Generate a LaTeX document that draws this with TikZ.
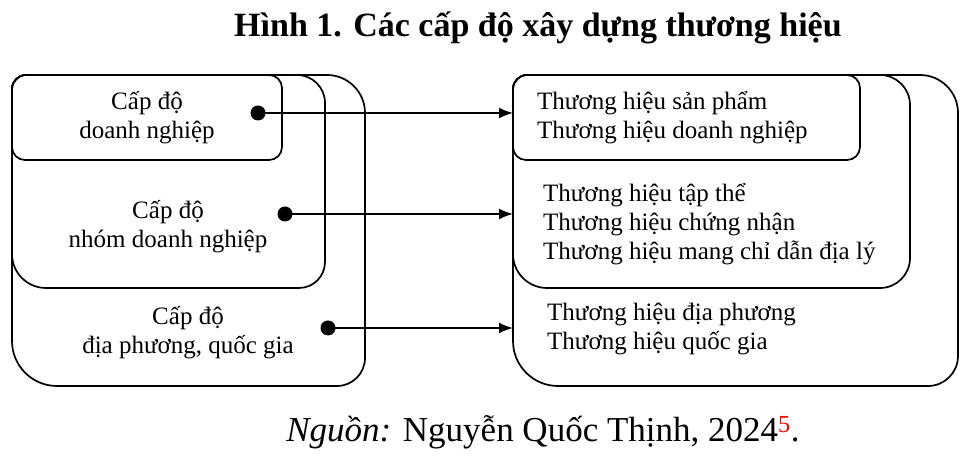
\documentclass[tikz,border=0pt]{standalone}
\usepackage{fontspec}
\setmainfont{Liberation Serif}
\usetikzlibrary{arrows.meta}
\newcommand{\rrect}[8]{%
\draw[boxline] (#1,#4-#5) arc[start angle=180,end angle=90,radius=#5] -- (#3-#6,#4) arc[start angle=90,end angle=0,radius=#6] -- (#3,#2+#7) arc[start angle=0,end angle=-90,radius=#7] -- (#1+#8,#2) arc[start angle=270,end angle=180,radius=#8] -- cycle;}
\begin{document}
\begin{tikzpicture}[x=1pt,y=1pt,
  boxline/.style={line width=1.7pt},
  lbl/.style={font=\fontsize{25}{29}\selectfont, align=center, inner sep=0pt},
  rlbl/.style={font=\fontsize{25}{29}\selectfont, align=left, anchor=west, inner sep=0pt},
  dotnode/.style={circle, fill=black, minimum size=15pt, inner sep=0pt},
  conn/.style={line width=1.7pt, -{Latex[length=14pt,width=11pt]}}]
\useasboundingbox (0,0) rectangle (969,462);
% left group
\rrect{12}{76}{365}{387}{14}{38}{28}{45}
\rrect{12}{174}{325}{387}{14}{28}{26}{34}
\rrect{12}{302}{282}{387}{14}{13}{13}{13}
% right group
\rrect{513}{76}{958}{387}{14}{38}{30}{45}
\rrect{513}{174}{910}{387}{14}{30}{30}{34}
\rrect{513}{302}{860}{387}{14}{13}{13}{13}
% texts
\node[lbl] (l1) at (147,344.5) {Cấp độ\\doanh nghiệp};
\node[lbl] (l2) at (168,235) {Cấp độ\\nhóm doanh nghiệp};
\node[lbl] (l3) at (188,129) {Cấp độ\\địa phương, quốc gia};
\node[rlbl] (r1) at (537,344.5) {Thương hiệu sản phẩm\\Thương hiệu doanh nghiệp};
\node[rlbl] (r2) at (543,238) {Thương hiệu tập thể\\Thương hiệu chứng nhận\\Thương hiệu mang chỉ dẫn địa lý};
\node[rlbl] (r3) at (547,133) {Thương hiệu địa phương\\Thương hiệu quốc gia};
% dots and arrows
\node[dotnode] (d1) at (258,349) {};
\node[dotnode] (d2) at (285,248) {};
\node[dotnode] (d3) at (328,134) {};
\coordinate (e1) at (513,349);
\coordinate (e2) at (513,248);
\coordinate (e3) at (513,134);
\draw[conn] (d1.center) -- (e1);
\draw[conn] (d2.center) -- (e2);
\draw[conn] (d3.center) -- (e3);
% title and source
\node[font=\fontsize{34}{40}\selectfont\bfseries, inner sep=0pt] (title) at (538,434) {Hình 1. Các cấp độ xây dựng thương hiệu};
\node[font=\fontsize{35}{40}\selectfont, inner sep=0pt] (src) at (543,30) {\textit{Nguồn:} Nguyễn Quốc Thịnh, 2024\textsuperscript{\color{red}5}.};
\end{tikzpicture}
\end{document}
